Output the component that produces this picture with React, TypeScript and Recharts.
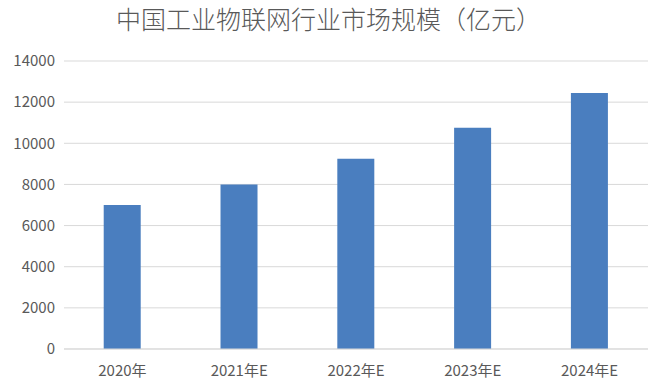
import { BarChart, Bar, XAxis, YAxis, CartesianGrid } from "recharts";

const YEARS = ["2020年", "2021年E", "2022年E", "2023年E", "2024年E"];
const MARKET_SIZE = [7000, 8000, 9250, 10750, 12450];
const Y_TICKS = [0, 2000, 4000, 6000, 8000, 10000, 12000, 14000];

const FONT = "'Noto Sans CJK SC', 'Noto Sans', sans-serif";

const chartData = YEARS.map((year, i) => ({ year, value: MARKET_SIZE[i] }));

export default function App() {
  return (
    <div style={{ position: "absolute", left: 0, top: 0, width: 657, height: 381, background: "#fff", fontFamily: FONT }}>
      <div
        style={{
          position: "absolute",
          left: 0,
          top: 1,
          width: 657,
          textAlign: "center",
          fontSize: 25,
          fontWeight: 300,
          color: "#595959",
          lineHeight: "34px",
        }}
      >
        中国工业物联网行业市场规模（亿元）
      </div>
      <BarChart width={657} height={381} data={chartData} margin={{ top: 61, right: 9, bottom: 2, left: 8 }} barCategoryGap="34%">
        <CartesianGrid stroke="#d9d9d9" vertical={false} />
        <XAxis
          dataKey="year"
          height={30}
          axisLine={{ stroke: "#d9d9d9" }}
          tickLine={false}
          tick={{ fill: "#595959", fontSize: 15, fontFamily: FONT }}
          tickMargin={10}
        />
        <YAxis
          width={56}
          domain={[0, 14000]}
          ticks={Y_TICKS}
          axisLine={false}
          tickLine={false}
          tick={{ fill: "#595959", fontSize: 15, fontFamily: FONT }}
          tickMargin={3}
        />
        <Bar dataKey="value" fill="#4a7ebf" isAnimationActive={false} />
      </BarChart>
    </div>
  );
}
